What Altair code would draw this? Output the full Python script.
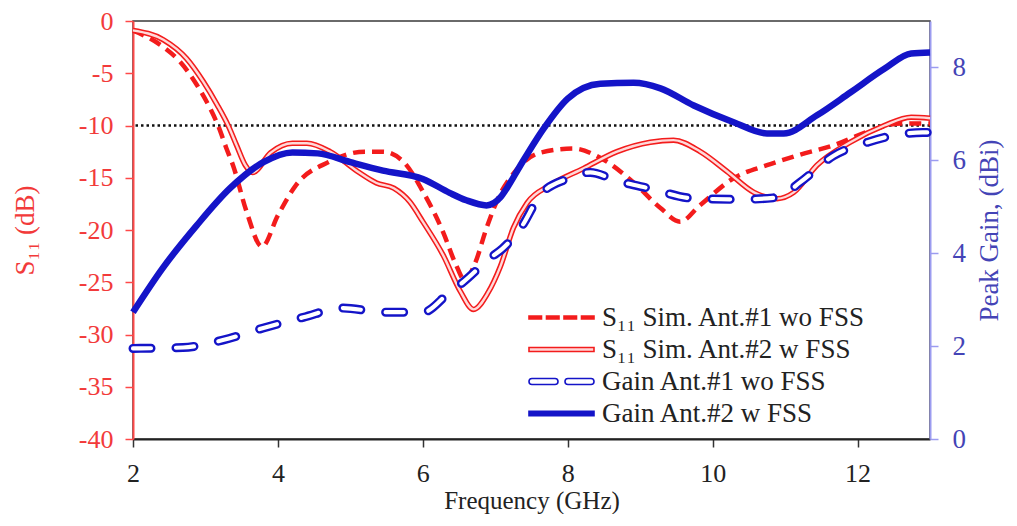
import altair as alt
import pandas as pd

# ---------------- data ----------------
LABELS = [
    "S₁₁ Sim. Ant.#1 wo FSS",
    "S₁₁ Sim. Ant.#2 w FSS",
    "Gain Ant.#1 wo FSS",
    "Gain Ant.#2 w FSS",
]

S1_FREQ = [2.0, 2.42, 2.65, 2.88, 3.06, 3.18, 3.29, 3.38, 3.57, 3.78, 4.0, 4.25, 4.7,
           5.2, 5.45, 5.75, 6.0, 6.28, 6.45, 6.58, 6.72, 6.88, 7.05, 7.25, 7.62, 8.08,
           8.45, 8.9, 9.28, 9.55, 9.83, 10.3, 10.75, 11.2, 11.67, 12.14, 12.6, 13.0]
S1_DB = [-0.9, -2.5, -3.9, -6.1, -8.3, -10.1, -12.2, -13.8, -18.3, -21.6, -18.6, -15.7,
         -13.5, -12.5, -12.5, -13.6, -16.3, -20.2, -23.2, -24.8, -23.2, -19.8, -16.8,
         -14.6, -12.6, -12.2, -13.1, -15.4, -17.9, -19.2, -17.6, -15.0, -13.8, -12.8,
         -11.9, -10.6, -9.8, -9.8]

S2_FREQ = [2.0, 2.42, 2.74, 2.97, 3.16, 3.32, 3.43, 3.55, 3.65, 3.9, 4.2, 4.4, 4.72, 5.1,
           5.36, 5.6, 5.82, 6.0, 6.28, 6.52, 6.7, 6.9, 7.07, 7.25, 7.44, 7.76, 8.22,
           8.68, 9.14, 9.46, 9.83, 10.2, 10.57, 10.89, 11.12, 11.44, 11.9, 12.37, 12.74,
           13.0]
S2_DB = [-0.9, -1.8, -3.6, -5.8, -8.0, -10.1, -11.9, -13.8, -14.5, -12.6, -11.7, -11.7,
         -12.5, -14.4, -15.5, -16.0, -17.3, -19.2, -22.4, -25.9, -27.6, -26.0, -23.5,
         -19.8, -17.4, -15.7, -14.1, -12.5, -11.6, -11.4, -12.5, -14.4, -16.4, -17.0,
         -16.4, -13.8, -11.6, -10.0, -9.2, -9.3]

G1_FREQ = [2.0, 2.69, 3.24, 3.8, 4.35, 4.9, 5.45, 6.0, 6.37, 6.55, 6.93, 7.1, 7.35, 7.62,
           7.99, 8.31, 8.68, 9.14, 9.74, 10.38, 10.89, 11.21, 11.67, 12.14, 12.51, 12.9, 13.0]
G1_DBI = [1.95, 1.97, 2.13, 2.39, 2.62, 2.82, 2.73, 2.73, 3.16, 3.37, 3.9, 4.1, 4.54, 5.25,
          5.6, 5.74, 5.56, 5.39, 5.18, 5.16, 5.2, 5.53, 6.1, 6.39, 6.54, 6.6, 6.6]

G2_FREQ = [2.0, 2.41, 2.88, 3.34, 3.8, 4.2, 4.55, 5.0, 5.45, 6.0, 6.37, 6.6, 6.88, 7.07,
           7.16, 7.35, 7.67, 8.0, 8.45, 8.91, 9.28, 9.74, 10.29, 10.75, 10.98, 11.44,
           11.9, 12.37, 12.74, 13.0]
G2_DBI = [2.73, 3.68, 4.6, 5.4, 5.96, 6.17, 6.15, 5.96, 5.78, 5.6, 5.3, 5.14, 5.03, 5.2,
          5.4, 5.9, 6.69, 7.33, 7.65, 7.67, 7.55, 7.18, 6.82, 6.58, 6.58, 6.97, 7.46,
          7.97, 8.3, 8.32]

REF_LEVEL = [-10]
X_TICKS = [2, 4, 6, 8, 10, 12]
S_TICKS = [-40, -35, -30, -25, -20, -15, -10, -5, 0]
G_TICKS = [0, 2, 4, 6, 8]

# ---------------- style ----------------
FONT = "Liberation Serif"
RED = "#f31c1c"
BLUE = "#1414c8"
LEFT_C = "#f23a3a"
RIGHT_C = "#4444b6"
RIGHT_LINE = "#9c9cf0"
INK = "#222222"

# legend symbol shapes (unit space, scaled by sqrt(size)/2 -> 10 px per unit)
SYM_DASH = ("M-3.25,-0.15H-2.0V0.15H-3.25Z M-1.5,-0.15H-0.25V0.15H-1.5Z "
            "M0.25,-0.15H1.5V0.15H0.25Z M2.0,-0.15H3.25V0.15H2.0Z")
SYM_DOUBLE = "M-3.25,-0.2H3.25V0.2H-3.25Z"
SYM_CAPS = ("M-2.95,-0.3H-0.65A0.3,0.3 0 0 1 -0.65,0.3H-2.95A0.3,0.3 0 0 1 -2.95,-0.3Z "
            "M0.65,-0.3H2.95A0.3,0.3 0 0 1 2.95,0.3H0.65A0.3,0.3 0 0 1 0.65,-0.3Z")
SYM_SOLID = "M-3.25,-0.22H3.25V0.22H-3.25Z"


def frame(freq, vals, label):
    return pd.DataFrame({"f": freq, "v": vals, "series": label})


d_s1 = frame(S1_FREQ, S1_DB, LABELS[0])
d_s2 = frame(S2_FREQ, S2_DB, LABELS[1])
d_g1 = frame(G1_FREQ, G1_DBI, LABELS[2])
d_g2 = frame(G2_FREQ, G2_DBI, LABELS[3])
d_ref = pd.DataFrame({"v": REF_LEVEL})
d_leg = pd.DataFrame({"series": LABELS})

x_enc = alt.X(
    "f:Q",
    scale=alt.Scale(domain=[2, 13], nice=False, zero=False),
    axis=alt.Axis(
        values=X_TICKS, title="Frequency (GHz)", grid=False,
        labelFont=FONT, labelFontSize=26, labelColor=INK, labelPadding=13,
        titleFont=FONT, titleFontSize=25, titleFontWeight="normal", titleColor=INK,
        titlePadding=2, domainColor=INK, domainWidth=2, tickColor="#333333",
        tickSize=8, tickWidth=1.5, labelFlush=False,
    ),
)

yl_enc = alt.Y(
    "v:Q",
    scale=alt.Scale(domain=[-40, 0], nice=False, zero=False),
    axis=alt.Axis(
        orient="left", values=S_TICKS, labelExpr="'' + datum.value", grid=False,
        title="S₁₁ (dB)", labelFont=FONT, labelFontSize=26, labelColor=LEFT_C,
        labelPadding=12, titleFont=FONT, titleFontSize=27, titleFontWeight="normal",
        titleColor=LEFT_C, titlePadding=39, domainColor="#ff4848", domainWidth=2,
        tickColor="#ff4848", tickSize=8, tickWidth=1.5,
    ),
)

yr_enc = alt.Y(
    "v:Q",
    scale=alt.Scale(domain=[0, 9], nice=False, zero=False),
    axis=alt.Axis(
        orient="right", values=G_TICKS, grid=False, title="Peak Gain,  (dBi)",
        labelFont=FONT, labelFontSize=27, labelColor=RIGHT_C, labelPadding=14,
        titleFont=FONT, titleFontSize=27, titleFontWeight="normal",
        titleColor=RIGHT_C, titlePadding=11, titleAngle=270, titleBaseline="top",
        domainColor=RIGHT_LINE, domainWidth=2, tickColor=RIGHT_LINE, tickSize=8,
        tickWidth=1.5,
    ),
)

legend = alt.Legend(
    title=None, orient="none", legendX=415, legendY=283, padding=0,
    symbolSize=400, symbolStrokeWidth=1.6, labelFont=FONT, labelFontSize=27,
    labelColor=INK, labelOffset=27, rowPadding=4, labelLimit=400, symbolOpacity=1,
)

ref_rule = alt.Chart(d_ref).mark_rule(
    color="#111111", strokeWidth=2.5, strokeDash=[2.5, 3]
).encode(y=yl_enc)

s1_line = alt.Chart(d_s1).mark_line(
    interpolate="monotone", strokeWidth=4.5, strokeDash=[12, 7], color=RED
).encode(x=x_enc, y=yl_enc)

s2_outer = alt.Chart(d_s2).mark_line(
    interpolate="monotone", strokeWidth=5.5, color=RED
).encode(x=x_enc, y=yl_enc)

s2_inner = alt.Chart(d_s2).mark_line(
    interpolate="monotone", strokeWidth=2.4, color="#ffd9d9"
).encode(x=x_enc, y=yl_enc)

left = alt.layer(ref_rule, s1_line, s2_outer, s2_inner)

g1_outer = alt.Chart(d_g1).mark_line(
    interpolate="monotone", strokeWidth=9, strokeDash=[18, 25], strokeCap="round",
    color=BLUE,
).encode(x=x_enc, y=yr_enc)

g1_inner = alt.Chart(d_g1).mark_line(
    interpolate="monotone", strokeWidth=4.2, strokeDash=[18, 25], strokeCap="round",
    color="white",
).encode(x=x_enc, y=yr_enc)

g2_line = alt.Chart(d_g2).mark_line(
    interpolate="monotone", strokeWidth=6.5, color=BLUE
).encode(x=x_enc, y=yr_enc)

right = alt.layer(g1_outer, g1_inner, g2_line)

# legend carrier: draws no marks, its scales carry the per-entry symbol styles
key = alt.Chart(d_leg).mark_point(
    size=400, opacity=1, filled=True, strokeWidth=1.6
).encode(
    shape=alt.Shape("series:N", scale=alt.Scale(
        domain=LABELS, range=[SYM_DASH, SYM_DOUBLE, SYM_CAPS, SYM_SOLID]), legend=legend),
    stroke=alt.Stroke("series:N", scale=alt.Scale(
        domain=LABELS, range=[RED, RED, BLUE, BLUE]), legend=legend),
    fill=alt.Fill("series:N", scale=alt.Scale(
        domain=LABELS, range=[RED, "#ffd6d6", "white", BLUE]), legend=legend),
).transform_filter("datum.series === 'none'")

chart = (
    alt.layer(left, right, key)
    .resolve_scale(y="independent")
    .properties(
        width=797,
        height=418,
        autosize=alt.AutoSizeParams(type="none"),
        padding={"left": 125, "top": 13, "right": 76, "bottom": 75},
        background="white",
    )
    .configure_view(stroke="#3a3a3a", strokeWidth=1.5)
)

chart.save("out.html", embed_options={"renderer": "svg", "actions": False})
